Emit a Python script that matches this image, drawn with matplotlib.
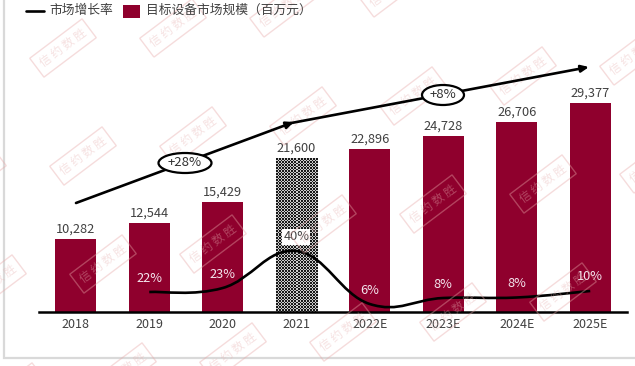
import numpy as np
import matplotlib
matplotlib.use("Agg")
import matplotlib.pyplot as plt
from matplotlib.path import Path
from matplotlib.patches import PathPatch, Ellipse

plt.rcParams['font.family'] = ['Noto Sans CJK SC', 'DejaVu Sans']

categories = ['2018', '2019', '2020', '2021', '2022E', '2023E', '2024E', '2025E']
market_size = [10282, 12544, 15429, 21600, 22896, 24728, 26706, 29377]
growth_labels = [None, '22%', '23%', '40%', '6%', '8%', '8%', '10%']
# curve height above the baseline as drawn in the picture (not to the scale of its labels)
growth_curve = [None, 20, 24, 61, 8, 14, 14.5, 21]
legend_line = '市场增长率'
legend_bar = '目标设备市场规模（百万元）'
trend_labels = ['+28%', '+8%']
stamp_text = '信 约 数 胜'

W, H = 635, 366
RED = '#8f002d'
GREY = '#404040'
fig = plt.figure(figsize=(W / 100, H / 100), dpi=100)
fig.patch.set_facecolor('white')

def rect(x0, y0, x1, y1):
    return [x0 / W, 1 - y1 / H, (x1 - x0) / W, (y1 - y0) / H]

# frame
bg = fig.add_axes([0, 0, 1, 1], zorder=0)
bg.set_xlim(0, W); bg.set_ylim(H, 0); bg.axis('off')
bg.plot([4, 4, W], [0, 358, 358], color='#d9d9d9', lw=1.6, solid_joinstyle='miter')

# bars
ax = fig.add_axes(rect(39, 20, 627, 312), zorder=1)
ax.patch.set_alpha(0)
x = np.arange(len(categories))
ylim = (0, 29377 * 292 / 209)
bars = ax.bar(x, market_size, width=0.558, color=RED, zorder=2)
ax.set_xlim(-0.5, 7.5); ax.set_ylim(*ylim)
ax.set_xticks(x, categories, fontsize=9, color=GREY)
ax.tick_params(axis='x', length=0, pad=4)
ax.set_yticks([])
for s in ('top', 'left', 'right'):
    ax.spines[s].set_visible(False)
ax.spines['bottom'].set_linewidth(1.8)
ax.spines['bottom'].set_color('black')
ax.spines['bottom'].set_zorder(5)

# 2021 bar: dotted fill
b = bars[3]
b.set_facecolor('none')
tile = np.array([[0.1, 0.1, 0.8], [0.1, 0.1, 0.8], [0.8, 0.8, 0.1]], float)
checker = np.tile(tile, (100, 20))
bw = b.get_width() * 588 / 8
px = b.get_height() * 292 / ylim[1]
img = ax.imshow(checker[:int(px), :int(bw)], cmap='gray', vmin=0, vmax=1, aspect='auto',
                interpolation='nearest', zorder=2,
                extent=(b.get_x(), b.get_x() + b.get_width(), 0, b.get_height()))
ax.set_xlim(-0.5, 7.5); ax.set_ylim(*ylim); ax.set_aspect('auto')

for xi, v in zip(x, market_size):
    ax.annotate(f'{v:,}', (xi, v), xytext=(0, 10), textcoords='offset pixels',
                ha='center', va='center', fontsize=9.2, color=GREY, zorder=6)

# smooth growth curve
ax2 = fig.add_axes(rect(39, 20, 627, 312), zorder=2)
ax2.patch.set_alpha(0); ax2.axis('off')
ax2.set_xlim(-0.5, 7.5); ax2.set_ylim(0, 292)
idx = [i for i, v in enumerate(growth_curve) if v is not None]
pts = np.array([(i, growth_curve[i]) for i in idx], float)
verts = [tuple(pts[0])]; codes = [Path.MOVETO]
for k in range(len(pts) - 1):
    p0 = pts[max(k - 1, 0)]; p1 = pts[k]; p2 = pts[k + 1]; p3 = pts[min(k + 2, len(pts) - 1)]
    verts += [tuple(p1 + (p2 - p0) / 5), tuple(p2 - (p3 - p1) / 5), tuple(p2)]
    codes += [Path.CURVE4] * 3
ax2.add_patch(PathPatch(Path(verts, codes), fc='none', ec='black', lw=1.9, capstyle='butt', zorder=7))
for i in idx:
    dark = categories[i] == '2021'
    ax2.annotate(growth_labels[i], (i, growth_curve[i]), xytext=(0, 14), textcoords='offset pixels',
                 ha='center', va='center', fontsize=9.2,
                 color=GREY if dark else '#f4e6ee', zorder=6,
                 bbox=dict(fc='white', ec='none', pad=0.8) if dark else None)

# overlay: stamps, trend arrows, legend
ov = fig.add_axes([0, 0, 1, 1], zorder=3)
ov.patch.set_alpha(0); ov.axis('off')
ov.set_xlim(0, W); ov.set_ylim(H, 0)

for i in range(-2, 7):
    for j in range(0, 4):
        cx = 63 + 110 * i + 20 * j
        cy = 48 - 20 * i + 108 * j
        if -40 < cx < W + 40 and -30 < cy < H + 30:
            ov.text(cx, cy, stamp_text, fontsize=8.5, color='#e8b4b4', alpha=0.4,
                    rotation=37, rotation_mode='anchor', ha='center', va='center',
                    clip_on=True, zorder=1,
                    bbox=dict(boxstyle='square,pad=0.45', fc='none', ec='#e8a8a8', lw=1.0, alpha=0.4))

arrow = dict(arrowstyle='-|>,head_length=0.45,head_width=0.2', color='black', lw=1.9,
             shrinkA=0, shrinkB=0)
ov.annotate('', xy=(294, 122), xytext=(76, 203), arrowprops=arrow, zorder=3)
ov.annotate('', xy=(589, 67), xytext=(286, 124), arrowprops=arrow, zorder=3)
for (cx, cy, w), t in zip([(185, 163, 53), (443, 95, 42)], trend_labels):
    ov.add_patch(Ellipse((cx, cy), w, 20, fc='white', ec='black', lw=1.6, zorder=4))
    ov.text(cx, cy, t, ha='center', va='center', fontsize=9.5, color='#303030', zorder=5)

ov.plot([26, 44], [10.5, 10.5], color='black', lw=1.9, solid_capstyle='round', zorder=4)
ov.text(49, 10.5, legend_line, ha='left', va='center', fontsize=9.2, color=GREY, zorder=5)
ov.fill_between([123, 140], [4.5, 4.5], [18, 18], color=RED, lw=0, zorder=4)
ov.text(146, 10.5, legend_bar, ha='left', va='center', fontsize=9.2, color=GREY, zorder=5)

fig.savefig('out.png', dpi=100)
